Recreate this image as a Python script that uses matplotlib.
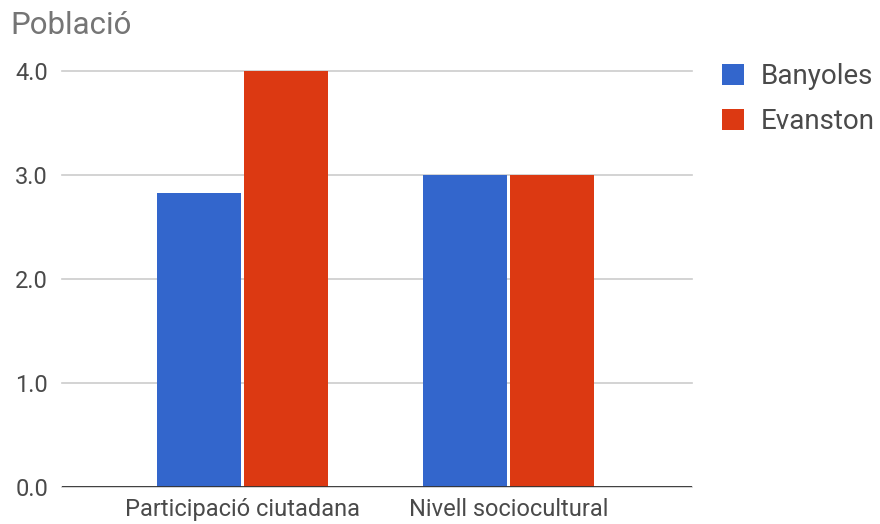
import numpy as np
import matplotlib.pyplot as plt

plt.rcParams['font.family'] = ['Roboto', 'DejaVu Sans']

categories = ["Participació ciutadana", "Nivell sociocultural"]
banyoles = [2.83, 3.0]
evanston = [4.0, 3.0]
yticks = [0.0, 1.0, 2.0, 3.0, 4.0]

BLUE = "#3366cc"
RED = "#dc3912"
TEXT = "#757575"
LABEL = "#4a4a4a"

fig = plt.figure(figsize=(8.8, 5.24), dpi=100)
ax = fig.add_axes([62 / 880, 1 - 487 / 524, (692 - 62) / 880, (487 - 71) / 524])

x = np.arange(len(categories))
w = 0.315
gap = 0.006
ax.bar(x - w / 2 - gap, banyoles, width=w, color=BLUE, label="Banyoles", zorder=3)
ax.bar(x + w / 2 + gap, evanston, width=w, color=RED, label="Evanston", zorder=3)

ax.set_xlim(-0.68, 1.69)
ax.set_ylim(0, 4.0)
ax.set_yticks(yticks)
ax.set_yticklabels([f"{v:.1f}" for v in yticks])
ax.set_xticks(x)
ax.set_xticklabels(categories)

ax.grid(axis="y", color="#cccccc", linewidth=1.2, zorder=0)
for gl in ax.get_ygridlines():
    gl.set_clip_on(False)
ax.axhline(0, color="#333333", linewidth=1.3, zorder=4)

for s in ax.spines.values():
    s.set_visible(False)
ax.tick_params(axis="both", length=0, labelsize=17, labelcolor=LABEL)
ax.tick_params(axis="y", pad=10)
ax.tick_params(axis="x", pad=8)

fig.text(10 / 880, 1 - 25 / 524, "Població", fontsize=22.5, color=TEXT,
         ha="left", va="center")

ax.legend(loc="upper left", bbox_to_anchor=(1.026, 1.052), frameon=False,
          borderpad=0, fontsize=20, labelcolor=LABEL, handlelength=0.8,
          handleheight=0.8, handletextpad=0.6, labelspacing=0.65)

fig.savefig("out.png", dpi=100)
